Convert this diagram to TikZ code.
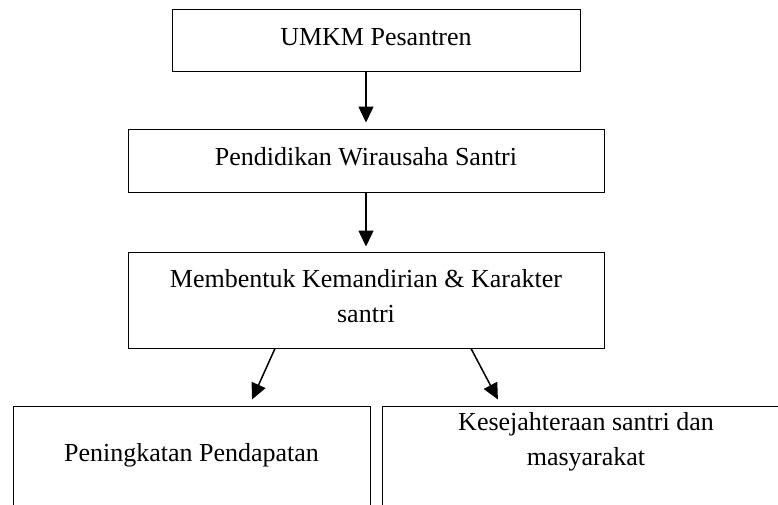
\documentclass[tikz,border=0pt]{standalone}
\usepackage{fontspec}
\setmainfont{Liberation Serif}
\usetikzlibrary{arrows.meta}

\tikzset{
  kotak/.style={draw, line width=1pt, inner sep=0pt, align=center},
  satubaris/.style={text height=18pt, text depth=8pt},
  panah/.style={-{Triangle[length=16pt,width=15pt]}, line width=1.5pt},
}

\begin{document}
\begin{tikzpicture}[x=1pt,y=-1pt,font=\fontsize{26}{35}\selectfont]
        \clip (0,0) rectangle (778,504);

        \node[kotak,satubaris,minimum width=408pt,minimum height=62pt] (umkm) at (376,40) {UMKM Pesantren};
        \node[kotak,satubaris,minimum width=476pt,minimum height=63pt] (pendidikan) at (366,160.5) {Pendidikan Wirausaha Santri};
        \node[kotak,minimum width=476pt,minimum height=96pt] (membentuk) at (366,300)
            {Membentuk Kemandirian \& Karakter\\santri\rule[-8.8pt]{0pt}{8.8pt}};
        \node[kotak,satubaris,minimum width=357pt,minimum height=100pt] (peningkatan) at (191.5,456) {Peningkatan Pendapatan};
        \node[kotak,minimum width=408pt,minimum height=100pt] (kesejahteraan) at (586,456)
            {Kesejahteraan santri dan\\masyarakat\rule[-34.8pt]{0pt}{34.8pt}};

        \draw[panah, shorten >=6pt] (umkm.south -| pendidikan.north) -- (pendidikan.north);
        \draw[panah, shorten >=5pt] (pendidikan.south) -- (membentuk.north);
        \draw[panah, shorten >=6.6pt] ([xshift=-91pt]membentuk.south) -- ([xshift=57.8pt]peningkatan.north);
        \draw[panah, shorten >=6.8pt] ([xshift=105pt]membentuk.south) -- ([xshift=-84.9pt]kesejahteraan.north);
    \end{tikzpicture}
\end{document}
